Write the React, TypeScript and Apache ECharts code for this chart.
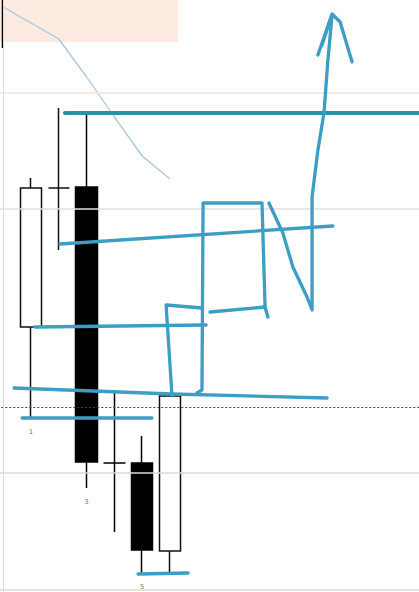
import React, { useEffect, useRef } from "react";
import * as echarts from "echarts";

// Candles: [open, close, low, high]
const categories = ["0","1","2","3","4","5","6","7","8","9","10","11","12","13","14","15"];
const candles: (number[] | string)[] = [
  [62, 61, 54.4, 63],
  [26.5, 40.4, 17.4, 41.4],
  [40.4, 40.4, 34.2, 48.4],
  [40.5, 13.0, 10.4, 47.7],
  [12.9, 12.9, 6.0, 20.2],
  [12.9, 4.2, 1.9, 15.6],
  [4.1, 19.6, 1.7, 19.9],
  "-","-","-","-","-","-","-","-","-",
];
const movingAverage = [58.5, 56.9, 55.3, 51.5, 47.5, 43.6, 41.3];
const candleLabels = [["1", 17.4], ["3", 10.4], ["5", 1.9]];
const gridLevels = [49.9, 38.3, 11.9, 0.2];
const gridColors = ["#f1e4da", "#e6dcdc", "#d8d8d8", "#d8d8d8"];
const priceLine = 18.5;

// hand-drawn annotation strokes, [category position, price]
const strokeTop = [[2.22, 47.9], [15.2, 47.9]];
const strokeB = [[2.04, 34.8], [11.86, 36.6]];
const strokeC = [[1.14, 26.5], [7.3, 26.7]];
const strokeD = [[0.39, 20.4], [6.07, 19.8], [11.65, 19.4]];
const strokeE = [[0.68, 17.4], [5.35, 17.4]];
const strokeF = [[4.85, 1.8], [6.65, 1.9]];
const strokeG1 = [[6.07, 19.7], [5.86, 28.7], [7.15, 28.4]];
const strokeG2 = [[6.97, 19.9], [7.15, 20.2], [7.19, 38.9], [9.31, 38.9], [9.42, 28.5], [9.52, 27.5]];
const strokeG3 = [[7.44, 28.0], [9.42, 28.5]];
const strokeG4 = [[9.56, 38.9], [10.06, 35.9], [10.42, 32.5], [10.93, 29.5], [11.11, 28.2], [11.11, 34.2], [11.11, 39.5], [11.32, 44.2], [11.54, 47.9], [11.68, 53.2], [11.83, 57.7]];
const strokeArrow = [[11.32, 53.7], [11.83, 57.8], [12.12, 57.0], [12.55, 53.0]];
const strokeBarb = [[11.47, 54.7], [11.76, 57.2]];
const blueStrokes = [strokeB, strokeC, strokeD, strokeE, strokeF, strokeG1, strokeG2, strokeG3, strokeG4, strokeArrow, strokeBarb];
const highlightBox = [[-0.5, 59.2], [6.29, 55.0]];

export default function App() {
  const ref = useRef<HTMLDivElement>(null);
  useEffect(() => {
    if (!ref.current) return;
    const chart = echarts.init(ref.current, undefined, { renderer: "svg" });
    const strokeSeries = (data: number[][], color: string, width: number) => ({
      type: "line",
      xAxisIndex: 1,
      yAxisIndex: 0,
      data,
      showSymbol: false,
      symbol: "none",
      silent: true,
      z: 5,
      lineStyle: { color, width, cap: "round", join: "round" },
    });
    chart.setOption({
      animation: false,
      backgroundColor: "#ffffff",
      grid: { left: -10.7, right: -15.1, top: 0, bottom: 0, outerBoundsMode: "none" },
      xAxis: [
        { type: "category", data: categories, show: false, boundaryGap: true },
        { type: "value", min: -0.5, max: 15.5, show: false },
      ],
      yAxis: { type: "value", min: 0, max: 59.2, show: false, splitLine: { show: false } },
      series: [
        {
          type: "line",
          xAxisIndex: 1,
          data: [],
          silent: true,
          z: 1,
          markArea: {
            silent: true,
            itemStyle: { color: "#fdeae0" },
            data: [[{ coord: highlightBox[0] }, { coord: highlightBox[1] }]],
          },
          markLine: {
            silent: true,
            symbol: "none",
            label: { show: false },
            data: [
              ...gridLevels.map((v, i) => ({ yAxis: v, lineStyle: { color: gridColors[i], width: 1.5, type: "solid" } })),
              { yAxis: priceLine, lineStyle: { color: "#444", width: 1, type: [2, 2] } },
              { xAxis: 0, lineStyle: { color: "#dcdcdc", width: 1, type: "solid" } },
            ],
          },
        },
        {
          type: "line",
          data: movingAverage,
          showSymbol: false,
          symbol: "none",
          z: 3,
          lineStyle: { color: "#a9c7df", width: 1.3 },
        },
        {
          type: "candlestick",
          data: candles,
          barWidth: 22,
          z: 4,
          itemStyle: {
            color: "#ffffff",
            color0: "#000000",
            borderColor: "#111111",
            borderColor0: "#000000",
            borderWidth: 1.5,
          },
        },
        {
          type: "scatter",
          data: candleLabels,
          symbolSize: 0,
          silent: true,
          z: 4,
          label: {
            show: true,
            position: "bottom",
            distance: 10,
            fontSize: 7,
            color: "#555",
            fontFamily: "DejaVu Sans",
            formatter: (p: any) => p.value[0],
          },
        },
        strokeSeries(strokeTop, "#2b8fa6", 4),
        ...blueStrokes.map((s) => strokeSeries(s, "#3c9dc5", 3.3)),
      ],
    });
    return () => chart.dispose();
  }, []);
  return (
    <div
      ref={ref}
      style={{ position: "fixed", left: 0, top: 0, width: 419, height: 592, background: "#fff" }}
    />
  );
}
